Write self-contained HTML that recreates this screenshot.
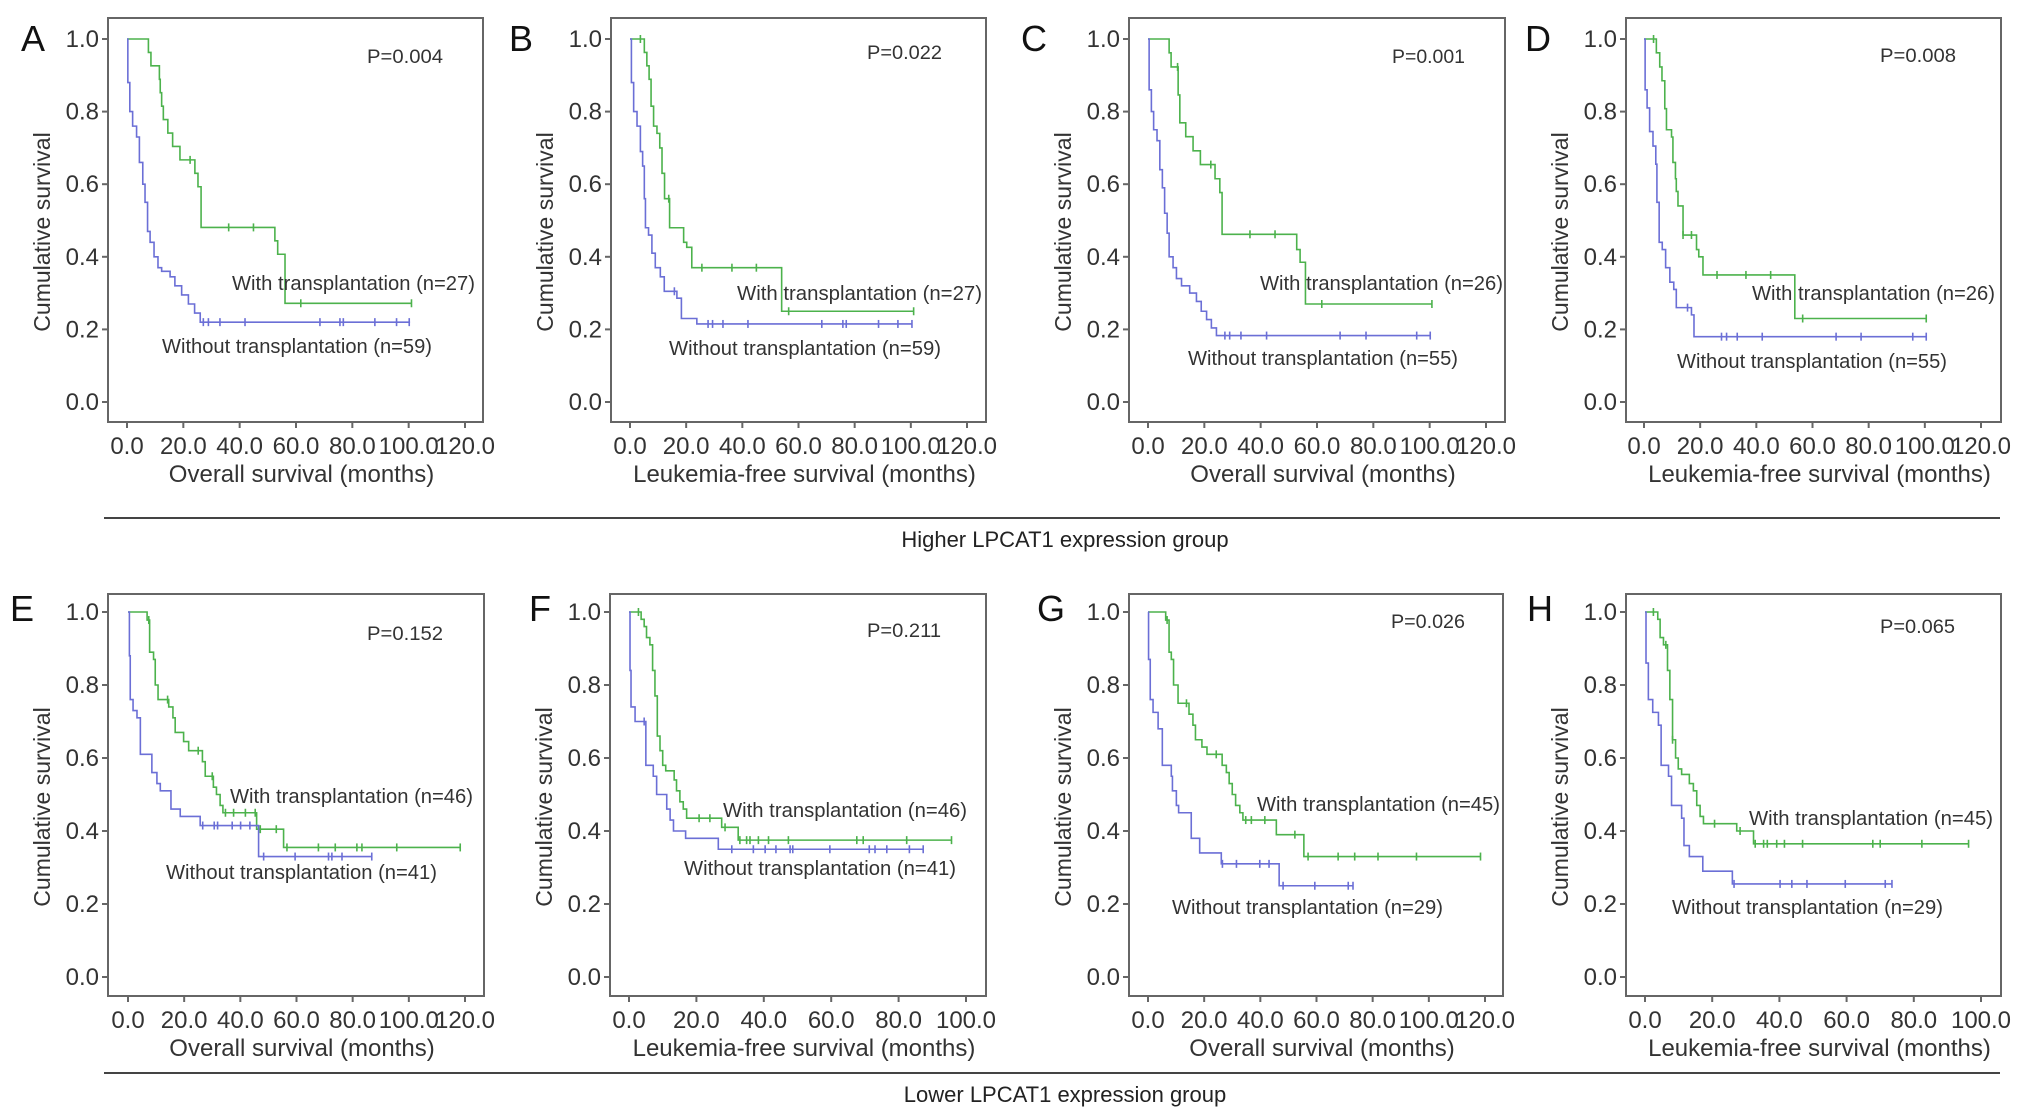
<!DOCTYPE html>
<html><head><meta charset="utf-8">
<style>
html,body{margin:0;padding:0;background:#fff;}
svg{display:block;font-family:"Liberation Sans",Arial,sans-serif;}
</style></head>
<body>
<svg id="fig" width="2032" height="1120" viewBox="0 0 2032 1120" xmlns="http://www.w3.org/2000/svg">
<rect x="0" y="0" width="2032" height="1120" fill="#fff"/>
<line x1="104" y1="518" x2="2000" y2="518" stroke="#444" stroke-width="2"/>
<text x="1065" y="547" font-size="22" fill="#222" text-anchor="middle">Higher LPCAT1 expression group</text>
<line x1="104" y1="1073" x2="2000" y2="1073" stroke="#444" stroke-width="2"/>
<text x="1065" y="1102" font-size="22" fill="#222" text-anchor="middle">Lower LPCAT1 expression group</text>
</svg>
<script>
// ---- Panel A ----
const aGreenT=[7.6,8.5,11.5,11.8,12.3,12.9,14.5,16.2,18.8,24.1,25.2,26.3,52.5,53.5,56.1];
const aGreenS=[0.963,0.926,0.889,0.852,0.815,0.778,0.741,0.704,0.667,0.630,0.593,0.481,0.444,0.407,0.272];
const aGreenCens=[22.4,36.1,44.9,61.7,101];
const aGreenEnd=101;
const aBlueT=[0.3,1,2,3.4,4.4,5.6,6.4,7.3,8.2,9.6,11,12.3,15.3,17,19.4,21.8,24,26];
const aBlueS=[0.88,0.80,0.76,0.73,0.66,0.60,0.55,0.47,0.44,0.40,0.37,0.36,0.345,0.32,0.295,0.27,0.245,0.22];
const aBlueCens=[27.1,28.9,33,41.9,68.5,75.6,76.8,88,95.7,100.2];
const aBlueEnd=100.5;
// ---- Panel B ----
const bGreenT=[5.1,6,6.8,7.5,8.4,9.6,10.6,11.4,12.3,14.1,19.1,20.2,22,54];
const bGreenS=[0.963,0.926,0.889,0.815,0.76,0.74,0.70,0.63,0.56,0.48,0.44,0.426,0.37,0.25];
const bGreenCens=[3.7,13.8,25.6,36.3,45,56.5,101];
const bGreenEnd=101;
const bBlueT=[0.5,1.3,2.5,3.7,4.5,5.1,5.5,6.6,7.8,9,10.8,12.2,16.7,18.3,23.8];
const bBlueS=[0.88,0.80,0.76,0.69,0.65,0.56,0.48,0.46,0.41,0.37,0.345,0.305,0.286,0.23,0.215];
const bBlueCens=[15.8,27.8,29.4,33.1,42,68.3,75.8,77,88.5,95.4,100.4];
const bBlueEnd=100.4;
// ---- Panel C ----
const cGreenT=[7.5,8.2,10.7,11.3,13.4,16,18.6,23.8,25.5,26.3,52.8,54,55.9];
const cGreenS=[0.962,0.923,0.846,0.769,0.731,0.692,0.654,0.615,0.577,0.462,0.42,0.385,0.27];
const cGreenCens=[10.5,22.3,36.2,45.1,61.7,100.8];
const cGreenEnd=100.8;
const cBlueT=[0.4,1.2,2,3.2,4.2,5.1,5.9,6.8,7.5,8.9,10.1,11.9,14.8,17.2,18.9,20.8,22.5,24.3];
const cBlueS=[0.86,0.80,0.75,0.72,0.64,0.59,0.52,0.465,0.40,0.37,0.34,0.32,0.30,0.277,0.25,0.227,0.204,0.183];
const cBlueCens=[27.3,29,33,42.1,68.2,77.4,95.4,100.2];
const cBlueEnd=100.2;
// ---- Panel D ----
const dGreenT=[4.4,5.6,6.4,7.4,8,9.8,10.3,11.2,11.5,12.1,13.9,18.7,19.5,21,53.7];
const dGreenS=[0.962,0.923,0.885,0.808,0.75,0.73,0.66,0.615,0.58,0.54,0.46,0.42,0.40,0.35,0.23];
const dGreenCens=[3.4,13.9,16.9,26,36.3,45.1,56.5,100.5];
const dGreenEnd=100.5;
const dBlueT=[0.4,1.1,2,3.2,4.2,4.6,5.4,6.5,7.7,9.2,10.6,11.5,16.9,17.8];
const dBlueS=[0.86,0.81,0.745,0.705,0.655,0.55,0.44,0.42,0.37,0.33,0.31,0.26,0.24,0.18];
const dBlueCens=[15.5,27.6,29.4,33.2,42.1,68.4,77.3,95.7,100.5];
const dBlueEnd=100.5;
// ---- Panel E ----
const eGreenT=[6.8,7.7,9.1,9.7,10.7,14.5,16,16.8,19.8,21.6,26.5,27.5,30.4,31.5,32.8,33.8,45.8,55.4];
const eGreenS=[0.978,0.89,0.87,0.80,0.76,0.74,0.71,0.67,0.645,0.62,0.59,0.55,0.52,0.50,0.47,0.45,0.405,0.355];
const eGreenCens=[7.4,14.1,25,30,34.7,37.6,41.8,45.3,47.1,52.8,56.6,67.8,73.8,81.5,83.3,95.7,118.3];
const eGreenEnd=118.3;
const eBlueT=[0.5,0.8,1.8,3.2,4.4,8.5,10.3,11.5,15.3,18.6,25.7,46.5];
const eBlueS=[0.88,0.76,0.73,0.71,0.61,0.56,0.53,0.51,0.46,0.44,0.415,0.33];
const eBlueCens=[26.6,30.7,31.9,37.1,40.1,43.4,48.3,59.5,71.4,72.6,76.2,86.8];
const eBlueEnd=86.8;
// ---- Panel F ----
const fGreenT=[3.6,4.5,5.2,6.2,7,7.7,8.4,9.2,10,10.9,13.4,14.1,15.1,16.1,17.1,27.5,32.4];
const fGreenS=[0.98,0.96,0.93,0.91,0.84,0.77,0.66,0.62,0.58,0.565,0.54,0.51,0.48,0.46,0.435,0.41,0.375];
const fGreenCens=[2.8,20.8,24,28.5,32.9,34.9,35.9,38.4,41.4,47.3,67.6,69.5,82.4,95.7];
const fGreenEnd=95.7;
const fBlueT=[0.3,0.6,1.8,5,7.2,8.2,11.2,12.2,13.2,16.8,26.5];
const fBlueS=[0.84,0.74,0.70,0.58,0.55,0.50,0.46,0.43,0.40,0.38,0.35];
const fBlueCens=[4.5,30.5,36.9,40.4,43.6,47.8,48.6,59.6,71.3,73,76.5,83.2,87.3];
const fBlueEnd=87.3;
// ---- Panel G ----
const gGreenT=[6.3,7.5,8.3,9.1,10.7,14.6,16,16.9,19.2,21,26.4,27.9,28.9,30,31.2,32.7,33.8,45.7,55.5];
const gGreenS=[0.978,0.89,0.87,0.80,0.75,0.72,0.69,0.65,0.63,0.61,0.58,0.56,0.53,0.50,0.47,0.45,0.43,0.39,0.33];
const gGreenCens=[6.8,13.7,24.3,34.8,36.8,41.6,52.3,57,67.7,73.6,81.9,95.6,118.4];
const gGreenEnd=118.4;
const gBlueT=[0.2,0.8,1.8,3.6,5.1,8.3,8.7,10.1,10.9,15.4,18.4,26.1,46.7];
const gBlueS=[0.87,0.76,0.725,0.68,0.58,0.55,0.51,0.47,0.45,0.38,0.34,0.31,0.25];
const gBlueCens=[26.5,31.5,39.8,43.1,48.1,59.4,71.3,73];
const gBlueEnd=73;
// ---- Panel H ----
const hGreenT=[3.8,4.5,5.5,6.7,7.4,8.2,9.1,9.9,10.9,13.2,14.4,15.4,16.4,17.4,27.3,32.3];
const hGreenS=[0.98,0.93,0.91,0.84,0.76,0.65,0.60,0.57,0.555,0.53,0.51,0.47,0.44,0.42,0.40,0.365];
const hGreenCens=[2.5,6.2,8.2,20.7,28.3,32.8,35.3,36.4,39.2,41.5,46.9,67.8,70,82.4,96.3];
const hGreenEnd=96.3;
const hBlueT=[0.3,1,2.3,4,4.8,7,7.9,10.9,11.6,13.2,17.2,26];
const hBlueS=[0.86,0.76,0.725,0.69,0.58,0.55,0.47,0.435,0.36,0.33,0.29,0.255];
const hBlueCens=[26.5,40.2,43.7,48.2,59.6,71.5,73.5];
const hBlueEnd=73.5;

const yTickLabels=["0.0","0.2","0.4","0.6","0.8","1.0"];
const yTickValues=[0,0.2,0.4,0.6,0.8,1.0];
const xTicks120=[0,20,40,60,80,100,120];
const xTicks100=[0,20,40,60,80,100];
const pValues=["P=0.004","P=0.022","P=0.001","P=0.008","P=0.152","P=0.211","P=0.026","P=0.065"];
const withLabels=["With transplantation (n=27)","With transplantation (n=27)","With transplantation (n=26)","With transplantation (n=26)","With transplantation (n=46)","With transplantation (n=46)","With transplantation (n=45)","With transplantation (n=45)"];
const withoutLabels=["Without transplantation (n=59)","Without transplantation (n=59)","Without transplantation (n=55)","Without transplantation (n=55)","Without transplantation (n=41)","Without transplantation (n=41)","Without transplantation (n=29)","Without transplantation (n=29)"];
const letters=["A","B","C","D","E","F","G","H"];
const xTitles=["Overall survival (months)","Leukemia-free survival (months)","Overall survival (months)","Leukemia-free survival (months)","Overall survival (months)","Leukemia-free survival (months)","Overall survival (months)","Leukemia-free survival (months)"];

const series=[
 {g:[aGreenT,aGreenS,aGreenCens,aGreenEnd],b:[aBlueT,aBlueS,aBlueCens,aBlueEnd],xmax:120},
 {g:[bGreenT,bGreenS,bGreenCens,bGreenEnd],b:[bBlueT,bBlueS,bBlueCens,bBlueEnd],xmax:120},
 {g:[cGreenT,cGreenS,cGreenCens,cGreenEnd],b:[cBlueT,cBlueS,cBlueCens,cBlueEnd],xmax:120},
 {g:[dGreenT,dGreenS,dGreenCens,dGreenEnd],b:[dBlueT,dBlueS,dBlueCens,dBlueEnd],xmax:120},
 {g:[eGreenT,eGreenS,eGreenCens,eGreenEnd],b:[eBlueT,eBlueS,eBlueCens,eBlueEnd],xmax:120},
 {g:[fGreenT,fGreenS,fGreenCens,fGreenEnd],b:[fBlueT,fBlueS,fBlueCens,fBlueEnd],xmax:100},
 {g:[gGreenT,gGreenS,gGreenCens,gGreenEnd],b:[gBlueT,gBlueS,gBlueCens,gBlueEnd],xmax:120},
 {g:[hGreenT,hGreenS,hGreenCens,hGreenEnd],b:[hBlueT,hBlueS,hBlueCens,hBlueEnd],xmax:100}
];

// layout (pixel geometry)
const layout=[
 {L:108,R:483,x0:127,x1:465,T:18,B:422,y1:39,y0:402,lx:21,ly:51,p:[367,443,56],w:[232,475,283],wo:[162,432,346]},
 {L:611,R:986,x0:630,x1:967,T:18,B:422,y1:39,y0:402,lx:509,ly:51,p:[867,942,52],w:[737,982,293],wo:[669,941,348]},
 {L:1129,R:1505,x0:1148,x1:1486,T:18,B:422,y1:39,y0:402,lx:1021,ly:51,p:[1392,1465,56],w:[1260,1503,283],wo:[1188,1458,358]},
 {L:1626,R:2001,x0:1644,x1:1981,T:18,B:422,y1:39,y0:402,lx:1525,ly:51,p:[1880,1956,55],w:[1752,1995,293],wo:[1677,1947,361]},
 {L:108,R:484,x0:128,x1:465,T:594,B:996,y1:612,y0:977,lx:10,ly:621,p:[367,443,633],w:[230,473,796],wo:[166,437,872]},
 {L:610,R:986,x0:629,x1:966,T:594,B:996,y1:612,y0:977,lx:529,ly:621,p:[867,941,630],w:[723,967,810],wo:[684,956,868]},
 {L:1129,R:1503,x0:1148,x1:1485,T:594,B:996,y1:612,y0:977,lx:1037,ly:621,p:[1391,1465,621],w:[1257,1500,804],wo:[1172,1443,907]},
 {L:1626,R:2001,x0:1645,x1:1981,T:594,B:996,y1:612,y0:977,lx:1527,ly:621,p:[1880,1955,626],w:[1749,1993,818],wo:[1672,1943,907]}
];

const NS="http://www.w3.org/2000/svg";
const svg=document.getElementById('fig');
function mk(tag,attrs,parent){const e=document.createElementNS(NS,tag);for(const k in attrs)e.setAttribute(k,attrs[k]);(parent||svg).appendChild(e);return e;}
function survAt(T,S,t){let s=1;for(let i=0;i<T.length;i++){if(T[i]<=t)s=S[i];}return s;}

layout.forEach((L,i)=>{
  const sr=series[i];
  const xs=v=>L.x0+(L.x1-L.x0)*v/sr.xmax;
  const ys=v=>L.y0+(L.y1-L.y0)*v;
  const g=mk('g',{});
  
  
  const let_=mk('text',{x:L.lx,y:L.ly,'font-size':36,fill:'#111'},g);
  
  
  let_.textContent=letters[i];
  const box=mk('rect',{x:L.L,y:L.T,width:L.R-L.L,height:L.B-L.T,fill:'none',stroke:'#666','stroke-width':2},g);
  
  
  yTickValues.forEach((v,k)=>{
    const y=ys(v);
    const tk=mk('line',{x1:L.L-6,x2:L.L,y1:y,y2:y,stroke:'#666','stroke-width':2},g);
    
    
    const tl=mk('text',{x:L.L-9,y:y+8,'font-size':24,fill:'#333','text-anchor':'end'},g);
    
    
    tl.textContent=yTickLabels[k];
  });
  const xt=sr.xmax===120?xTicks120:xTicks100;
  xt.forEach(v=>{
    const x=xs(v);
    const tk=mk('line',{x1:x,x2:x,y1:L.B,y2:L.B+6,stroke:'#666','stroke-width':2},g);
    
    
    const tl=mk('text',{x:x,y:L.B+32,'font-size':24,fill:'#333','text-anchor':'middle'},g);
    
    
    tl.textContent=v.toFixed(1);
  });
  const xtitle=mk('text',{x:(L.L+L.R)/2+6,y:L.B+60,'font-size':24,fill:'#333','text-anchor':'middle'},g);
  
  
  xtitle.textContent=xTitles[i];
  const yc=(L.T+L.B)/2+12, yx=L.L-58;
  const ytitle=mk('text',{x:yx,y:yc,'font-size':23,fill:'#333','text-anchor':'middle',transform:`rotate(-90 ${yx} ${yc})`},g);
  
  
  ytitle.textContent='Cumulative survival';
  [['g','#4cb24c','with-transplantation-curve'],['b','#6b6fd6','without-transplantation-curve']].forEach(([key,col,nm])=>{
    const [T,S,C,E]=sr[key];
    let d=`M${xs(0)},${ys(1)}`;
    for(let k=0;k<T.length;k++){d+=` H${xs(T[k])} V${ys(S[k])}`;}
    d+=` H${xs(E)}`;
    const p=mk('path',{d:d,fill:'none',stroke:col,'stroke-width':1.6},g);
    
    
    C.forEach(t=>{
      const x=xs(t),y=ys(survAt(T,S,t));
      const c=mk('line',{x1:x,x2:x,y1:y-4,y2:y+4,stroke:col,'stroke-width':1.6},g);
      
      
    });
  });
  const mkLabel=(arr,txt,nm,fs)=>{
    const t=mk('text',{x:arr[0],y:arr[2]+7,'font-size':fs,fill:'#333',textLength:arr[1]-arr[0],lengthAdjust:'spacingAndGlyphs'},g);
    
    
    t.textContent=txt;
  };
  mkLabel(L.p,pValues[i],'p-value',19);
  mkLabel(L.w,withLabels[i],'with-transplantation-label',20);
  mkLabel(L.wo,withoutLabels[i],'without-transplantation-label',20);
});
</script>
</body></html>
